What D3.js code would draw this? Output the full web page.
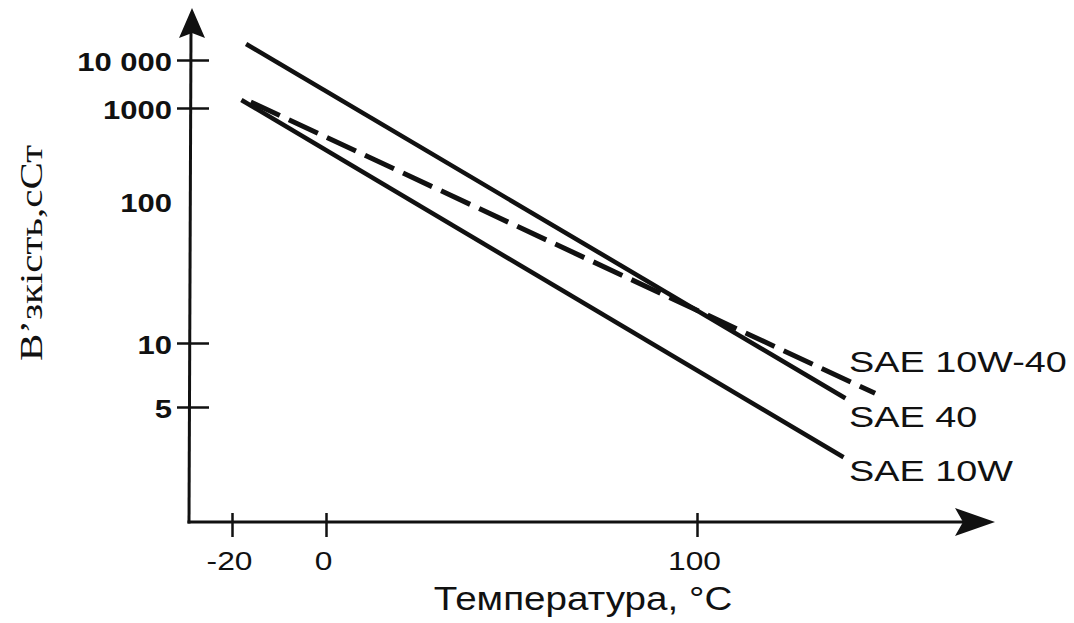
<!DOCTYPE html>
<html>
<head>
<meta charset="utf-8">
<script src="https://cdn.jsdelivr.net/npm/d3@7"></script>
<style>
  body { margin: 0; background: #fff; }
  .chart text { fill: #111; }
</style>
</head>
<body>
<svg class="chart" width="1074" height="623"></svg>
<script>
// дані графіка
const yTicks = [5, 10, 100, 1000, 10000];
const yTickLabels = ["5", "10", "100", "1000", "10 000"];
const xTicks = [-20, 0, 100];
const xTickLabels = ["-20", "0", "100"];
const seriesNames = ["SAE 10W-40", "SAE 40", "SAE 10W"];
const seriesTemps = [[-16, 148], [-17, 140], [-18, 139.5]];
const seriesVisc = [[1330, 5.8], [21500, 5.5], [1470, 2.9]];

const svg = d3.select(".chart");
const x0 = 189, y0 = 522; // початок координат

// шкали (нерівномірні, як на малюнку)
const xScale = d3.scaleLinear().domain([-20, 0, 100]).range([232, 326, 697]);
const yScale = d3.scaleLog().domain([5, 10, 100, 1000, 10000]).range([407, 343, 201, 108, 60]);

const ink = "#111";

// вісь Y
const yAxis = d3.axisLeft(yScale)
    .tickValues(yTicks)
    .tickFormat((d, i) => yTickLabels[i])
    .tickSize(0);
const gy = svg.append("g")
    .attr("transform", `translate(${x0},0)`)
    .call(yAxis);
gy.select(".domain").remove();
gy.selectAll(".tick line")
    .attr("x1", -12).attr("x2", 20)
    .attr("stroke", ink).attr("stroke-width", 2.5)
    .style("display", d => d === 100 ? "none" : null);
gy.selectAll(".tick text")
    .attr("x", null)
    .attr("dy", "0.4em")
    .attr("transform", "translate(-17,0) scale(1.24,1)")
    .style("font-family", "Liberation Sans, Arial, sans-serif")
    .style("font-size", "25px")
    .style("font-weight", "bold");

// вісь X
const xAxis = d3.axisBottom(xScale)
    .tickValues(xTicks)
    .tickFormat((d, i) => xTickLabels[i])
    .tickSize(0);
const gx = svg.append("g")
    .attr("transform", `translate(0,${y0})`)
    .call(xAxis);
gx.select(".domain").remove();
gx.selectAll(".tick line")
    .attr("y1", -9).attr("y2", 15)
    .attr("stroke", ink).attr("stroke-width", 2.5);
gx.selectAll(".tick text")
    .attr("y", null).attr("dy", null)
    .attr("transform", "translate(-3,48) scale(1.22,1)")
    .style("font-family", "Liberation Sans, Arial, sans-serif")
    .style("font-size", "26px");

// лінії осей зі стрілками
svg.append("line")
    .attr("x1", x0).attr("y1", y0 + 1.5)
    .attr("x2", x0 + 2).attr("y2", 30)
    .attr("stroke", ink).attr("stroke-width", 3);
svg.append("path")
    .attr("d", `M${x0 + 3},8 L${x0 - 10},38 L${x0 + 3},33 L${x0 + 16},38 Z`)
    .attr("fill", ink);
svg.append("line")
    .attr("x1", x0 - 1.5).attr("y1", y0)
    .attr("x2", 965).attr("y2", y0)
    .attr("stroke", ink).attr("stroke-width", 3);
svg.append("path")
    .attr("d", `M995,${y0} L955,${y0 - 14} L963,${y0} L955,${y0 + 14} Z`)
    .attr("fill", ink);

// криві в'язкості
const line = d3.line()
    .x(d => xScale(d[0]))
    .y(d => yScale(d[1]));

const series = seriesNames.map((name, i) => ({
    name,
    points: seriesTemps[i].map((t, j) => [t, seriesVisc[i][j]])
}));

const dashes = ["32,10", null, null];
const widths = [5, 4.5, 4.5];
const labelDy = [-21, 29, 24];

svg.selectAll(".visc")
    .data(series)
    .enter()
    .append("path")
    .attr("class", "visc")
    .attr("d", d => line(d.points))
    .attr("fill", "none")
    .attr("stroke", ink)
    .attr("stroke-width", (d, i) => widths[i])
    .attr("stroke-dasharray", (d, i) => dashes[i]);

// підписи кривих
svg.selectAll(".visc-label")
    .data(series)
    .enter()
    .append("text")
    .attr("class", "visc-label")
    .attr("transform", (d, i) => {
        const last = d.points[d.points.length - 1];
        return `translate(${xScale(141)},${yScale(last[1]) + labelDy[i]}) scale(1.26,1)`;
    })
    .style("font-family", "Liberation Sans, Arial, sans-serif")
    .style("font-size", "30px")
    .text(d => d.name);

// назви осей
svg.append("text")
    .attr("transform", "translate(583,610) scale(1.17,1)")
    .attr("text-anchor", "middle")
    .style("font-family", "Liberation Sans, Arial, sans-serif")
    .style("font-size", "33px")
    .text("Температура, °C");

svg.append("text")
    .attr("transform", "translate(42,253) rotate(-90) scale(1.32,1)")
    .attr("text-anchor", "middle")
    .style("font-family", "Liberation Serif, Times New Roman, serif")
    .style("font-size", "31px")
    .text("В’зкість,сСт");
</script>
</body>
</html>
